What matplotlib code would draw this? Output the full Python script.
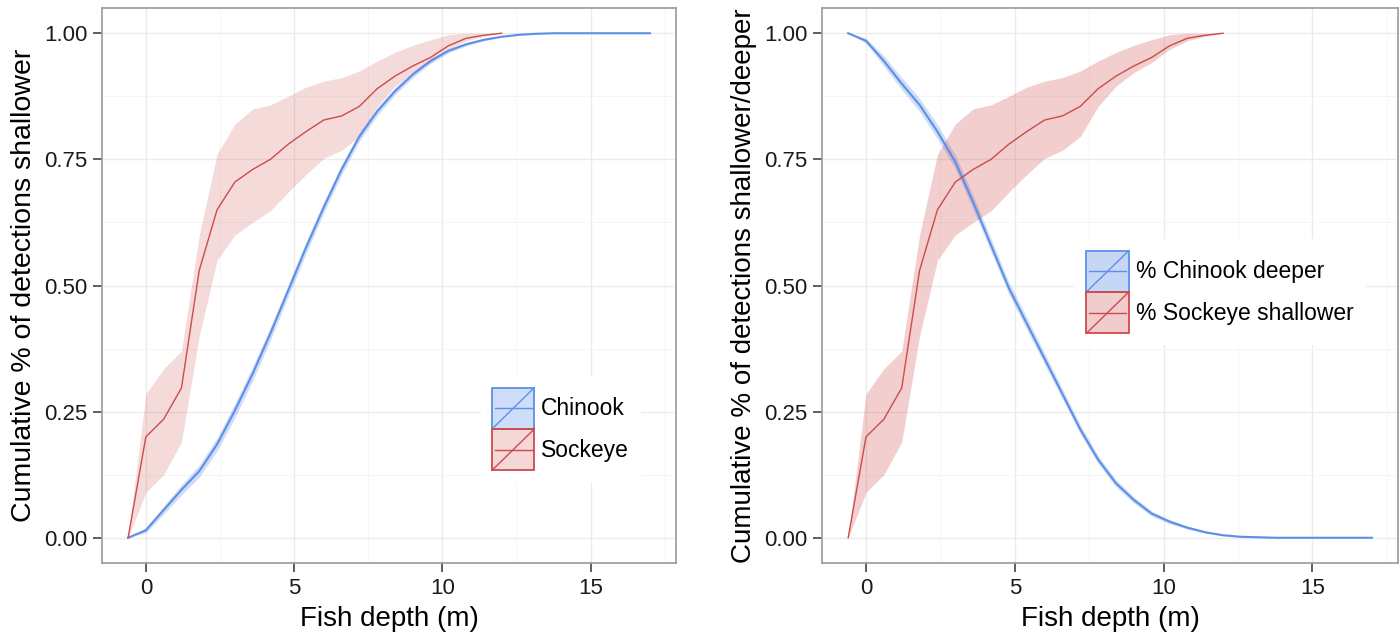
import matplotlib
matplotlib.use("Agg")
import matplotlib.pyplot as plt
from matplotlib.patches import Patch, Rectangle
from matplotlib.lines import Line2D
from matplotlib.legend_handler import HandlerBase

plt.rcParams['font.family'] = ['Liberation Sans', 'DejaVu Sans']

# depths (m) and cumulative proportions
depth_sockeye = [-0.6, 0.0, 0.6, 1.2, 1.8, 2.4, 3.0, 3.6, 4.2, 4.8, 5.4, 6.0, 6.6,
                 7.2, 7.8, 8.4, 9.0, 9.6, 10.2, 10.8, 11.4, 12.0]
sockeye = [0.0, 0.20, 0.235, 0.297, 0.53, 0.65, 0.705, 0.73, 0.75, 0.78, 0.805, 0.828,
           0.836, 0.855, 0.89, 0.915, 0.935, 0.952, 0.975, 0.99, 0.996, 1.0]
sockeye_lo = [0.0, 0.09, 0.125, 0.19, 0.40, 0.55, 0.60, 0.625, 0.648, 0.685, 0.72, 0.752,
              0.768, 0.795, 0.855, 0.895, 0.922, 0.942, 0.968, 0.985, 0.994, 1.0]
sockeye_hi = [0.0, 0.285, 0.335, 0.37, 0.60, 0.76, 0.82, 0.85, 0.858, 0.875, 0.893, 0.905,
              0.912, 0.925, 0.945, 0.962, 0.976, 0.987, 0.997, 1.0, 1.0, 1.0]

depth_chinook = [-0.6, 0.0, 0.6, 1.2, 1.8, 2.4, 3.0, 3.6, 4.2, 4.8, 5.4, 6.0, 6.6, 7.2,
                 7.8, 8.4, 9.0, 9.6, 10.2, 10.8, 11.4, 12.0, 12.6, 13.2, 13.8, 15.0, 16.0, 17.0]
chinook_shallower = [0.0, 0.015, 0.055, 0.095, 0.132, 0.185, 0.252, 0.325, 0.405, 0.49,
                     0.575, 0.655, 0.73, 0.795, 0.845, 0.885, 0.918, 0.945, 0.965, 0.978,
                     0.987, 0.993, 0.997, 0.999, 1.0, 1.0, 1.0, 1.0]
chinook_shallower_lo = [0.0, 0.010, 0.047, 0.085, 0.120, 0.172, 0.238, 0.311, 0.392, 0.478,
                        0.563, 0.644, 0.720, 0.786, 0.837, 0.878, 0.912, 0.940, 0.961, 0.975,
                        0.985, 0.992, 0.996, 0.998, 1.0, 1.0, 1.0, 1.0]
chinook_shallower_hi = [0.0, 0.020, 0.063, 0.105, 0.144, 0.198, 0.266, 0.339, 0.418, 0.502,
                        0.587, 0.666, 0.740, 0.804, 0.853, 0.892, 0.924, 0.950, 0.969, 0.981,
                        0.989, 0.994, 0.998, 1.0, 1.0, 1.0, 1.0, 1.0]
chinook_deeper = [1.0, 0.985, 0.945, 0.9, 0.858, 0.805, 0.745, 0.665, 0.58, 0.495, 0.425,
                  0.355, 0.285, 0.215, 0.155, 0.108, 0.075, 0.048, 0.032, 0.02, 0.011,
                  0.005, 0.002, 0.001, 0.0, 0.0, 0.0, 0.0]
chinook_deeper_lo = [1.0, 0.980, 0.935, 0.888, 0.845, 0.791, 0.731, 0.651, 0.567, 0.483,
                     0.413, 0.344, 0.275, 0.206, 0.147, 0.101, 0.069, 0.043, 0.028, 0.017,
                     0.009, 0.004, 0.001, 0.0, 0.0, 0.0, 0.0, 0.0]
chinook_deeper_hi = [1.0, 0.990, 0.955, 0.912, 0.871, 0.819, 0.759, 0.679, 0.593, 0.507,
                     0.437, 0.366, 0.295, 0.224, 0.163, 0.115, 0.081, 0.053, 0.036, 0.023,
                     0.013, 0.006, 0.003, 0.002, 0.0, 0.0, 0.0, 0.0]

x_ticks = [0, 5, 10, 15]
y_ticks = [0.0, 0.25, 0.5, 0.75, 1.0]
y_ticklabels = ["0.00", "0.25", "0.50", "0.75", "1.00"]

BLUE = "#5E8FE8"
RED = "#CF4A4A"


class RibbonKey(HandlerBase):
    # ggplot style key: filled box, horizontal line and a diagonal
    def create_artists(self, legend, orig_handle, xdescent, ydescent, width, height, fontsize, trans):
        ec = orig_handle.get_edgecolor()
        fc = orig_handle.get_facecolor()
        x0, y0 = -xdescent, -ydescent
        box = Rectangle((x0, y0), width, height, facecolor=fc, edgecolor=ec, lw=1.3, transform=trans)
        hline = Line2D([x0 + 2, x0 + width - 2], [y0 + height / 2] * 2, color=ec, lw=1.0, transform=trans)
        diag = Line2D([x0, x0 + width], [y0, y0 + height], color=ec, lw=1.0, transform=trans)
        return [box, hline, diag]


fig = plt.figure(figsize=(14, 6.36), dpi=100)
ax1 = fig.add_axes([102 / 1400, 1 - 563 / 636, 574 / 1400, 555 / 636])
ax2 = fig.add_axes([822 / 1400, 1 - 563 / 636, 576 / 1400, 555 / 636])


def style_axes(ax, ylabel, ysize):
    ax.set_xlim(-1.48, 17.88)
    ax.set_ylim(-0.05, 1.05)
    ax.set_xticks(x_ticks)
    ax.set_yticks(y_ticks)
    ax.set_yticklabels(y_ticklabels)
    ax.set_xticks([2.5, 7.5, 12.5, 17.5], minor=True)
    ax.set_yticks([0.125, 0.375, 0.625, 0.875], minor=True)
    ax.grid(which="major", color="#EBEBEB", lw=1.0)
    ax.grid(which="minor", color="#F5F5F5", lw=0.7)
    ax.set_axisbelow(True)
    ax.tick_params(which="minor", length=0)
    ax.tick_params(which="major", length=6.5, width=1.1, color="#333333", pad=4,
                   labelsize=16, labelcolor="#1A1A1A")
    for s in ax.spines.values():
        s.set_color("#9A9A9A")
        s.set_linewidth(1.2)
    ax.set_xlabel("Fish depth (m)", fontsize=20, labelpad=5)
    ax.set_ylabel(ylabel, fontsize=ysize, labelpad=5)


# left: both species cumulative shallower
ax1.fill_between(depth_chinook, chinook_shallower_lo, chinook_shallower_hi, color=BLUE, alpha=0.3, lw=0)
ax1.fill_between(depth_sockeye, sockeye_lo, sockeye_hi, color=RED, alpha=0.2, lw=0)
ax1.plot(depth_chinook, chinook_shallower, color=BLUE, lw=1.5)
ax1.plot(depth_sockeye, sockeye, color=RED, lw=1.0)
style_axes(ax1, "Cumulative % of detections shallower", 20.5)

# right: chinook deeper vs sockeye shallower
ax2.fill_between(depth_chinook, chinook_deeper_lo, chinook_deeper_hi, color=BLUE, alpha=0.3, lw=0)
ax2.fill_between(depth_sockeye, sockeye_lo, sockeye_hi, color=RED, alpha=0.27, lw=0)
ax2.plot(depth_chinook, chinook_deeper, color=BLUE, lw=1.5)
ax2.plot(depth_sockeye, sockeye, color=RED, lw=1.0)
style_axes(ax2, "Cumulative % of detections shallower/deeper", 20)

legend_kw = dict(handler_map={Patch: RibbonKey()}, fontsize=16.5, handlelength=1.85,
                 handleheight=2.4, labelspacing=0, handletextpad=0.3, borderpad=0.5,
                 frameon=True, fancybox=False, framealpha=1, edgecolor="none",
                 facecolor="white", loc="center", bbox_transform=fig.transFigure,
                 borderaxespad=0)

h1 = [Patch(facecolor=(0.37, 0.56, 0.91, 0.3), edgecolor=BLUE),
      Patch(facecolor=(0.81, 0.29, 0.29, 0.22), edgecolor=RED)]
ax1.legend(h1, ["Chinook", "Sockeye"], bbox_to_anchor=(0.4004, 0.3255), **legend_kw)

h2 = [Patch(facecolor=(0.37, 0.56, 0.91, 0.35), edgecolor=BLUE),
      Patch(facecolor=(0.81, 0.29, 0.29, 0.28), edgecolor=RED)]
ax2.legend(h2, ["% Chinook deeper", "% Sockeye shallower"], bbox_to_anchor=(0.8714, 0.541), **legend_kw)

fig.savefig("out.png", dpi=100)
